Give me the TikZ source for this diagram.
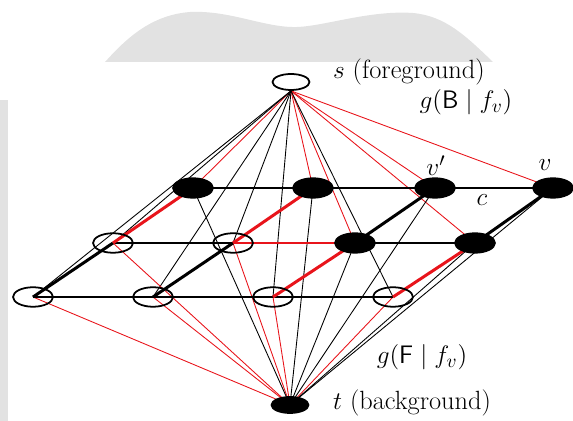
\documentclass[tikz,border=0pt]{standalone}
\usepackage{amsmath,amssymb}
\usepackage{xcolor}
\usepackage{tikz}
\usetikzlibrary{shapes.geometric,backgrounds}
\definecolor{CutRed}{HTML}{E8141B}
\definecolor{ScanGray}{HTML}{E2E2E2}
\tikzset{
  pixel/.style={ellipse,draw=black,line width=1pt,minimum width=8mm,minimum height=3.9mm,inner sep=0pt},
  fgpix/.style={pixel},
  bgpix/.style={pixel,fill=black},
  terminal/.style={ellipse,draw=black,line width=1pt,minimum width=7.4mm,minimum height=3.2mm,inner sep=0pt},
  lab/.style={font=\fontsize{15}{18}\selectfont,inner sep=1pt},
  nlink/.style={line width=1.7pt,draw=black},
  cutlink/.style={line width=1.7pt,draw=CutRed},
  tlink/.style={line width=0.5pt,draw=black},
  tcut/.style={line width=0.5pt,draw=CutRed}
}

\begin{document}
\begin{tikzpicture}[x=0.2mm,y=-0.2mm]
  \useasboundingbox (0,0) rectangle (573,421);
  % terminals
  \node[terminal,fill=white] (s) at (291,82) {};
  \node[terminal,fill=black] (t) at (290,405) {};
  \node[lab,anchor=west] (slab) at (331,72) {$s$ (foreground)};
  \node[lab,anchor=west] (tlab) at (331,403) {$t$ (background)};
  % back row
  \node[bgpix] (a1) at (193,188) {};
  \node[bgpix] (a2) at (313,188) {};
  \node[bgpix] (a3) at (435,188) {};
  \node[bgpix] (a4) at (553,188) {};
  % middle row
  \node[fgpix] (b1) at (113,243) {};
  \node[fgpix] (b2) at (233,243) {};
  \node[bgpix] (b3) at (355,243) {};
  \node[bgpix] (b4) at (475,243) {};
  % front row
  \node[fgpix] (c1) at (33,297) {};
  \node[fgpix] (c2) at (153,297) {};
  \node[fgpix] (c3) at (273,297) {};
  \node[fgpix] (c4) at (393,297) {};
  % labels
  \node[lab] (vp) at (436,166) {$v'$};
  \node[lab] (v) at (545,165) {$v$};
  \node[lab] (c) at (482,200) {$c$};
  \node[lab] (gB) at (466,102) {$g(\mathsf{B}\mid f_v)$};
  \node[lab] (gF) at (422,357) {$g(\mathsf{F}\mid f_v)$};
  \begin{scope}[on background layer]
    % scan residue
    \fill[ScanGray] (105,62) .. controls (125,40) and (150,15) .. (190,12)
      .. controls (230,10) and (265,28) .. (297,27)
      .. controls (325,26) and (370,10) .. (413,13)
      .. controls (445,16) and (465,35) .. (493,62) -- cycle;
    \fill[ScanGray] (0,100) rectangle (8,421);
    % terminal links
    \foreach \n in {a1,a2,a3,a4,b3,b4}
      \draw[tcut] (s.south) -- (\n.center);
    \foreach \n in {b1,b2,c1,c2,c3,c4}
      \draw[tlink] (s.south) -- (\n.center);
    \foreach \n in {b1,b2,c1,c2,c3,c4}
      \draw[tcut] (t.center) -- (\n.center);
    \foreach \n in {a1,a2,a3,a4,b3,b4}
      \draw[tlink] (t.center) -- (\n.center);
    % neighbour links
    \draw[nlink] (a1.center) -- (a2.center) -- (a3.center) -- (a4.center);
    \draw[nlink] (b1.center) -- (b2.center);
    \draw[cutlink] (b2.center) -- (b3.center);
    \draw[nlink] (b3.center) -- (b4.center);
    \draw[nlink] (c1.center) -- (c2.center) -- (c3.center) -- (c4.center);
    \draw[nlink] (c1.center) -- (b1.center);
    \draw[nlink] (c2.center) -- (b2.center);
    \draw[cutlink] (c3.center) -- (b3.center);
    \draw[cutlink] (c4.center) -- (b4.center);
    \draw[cutlink] (b1.center) -- (a1.center);
    \draw[cutlink] (b2.center) -- (a2.center);
    \draw[nlink] (b3.center) -- (a3.center);
    \draw[nlink] (b4.center) -- (a4.center);
  \end{scope}
\end{tikzpicture}
\end{document}
